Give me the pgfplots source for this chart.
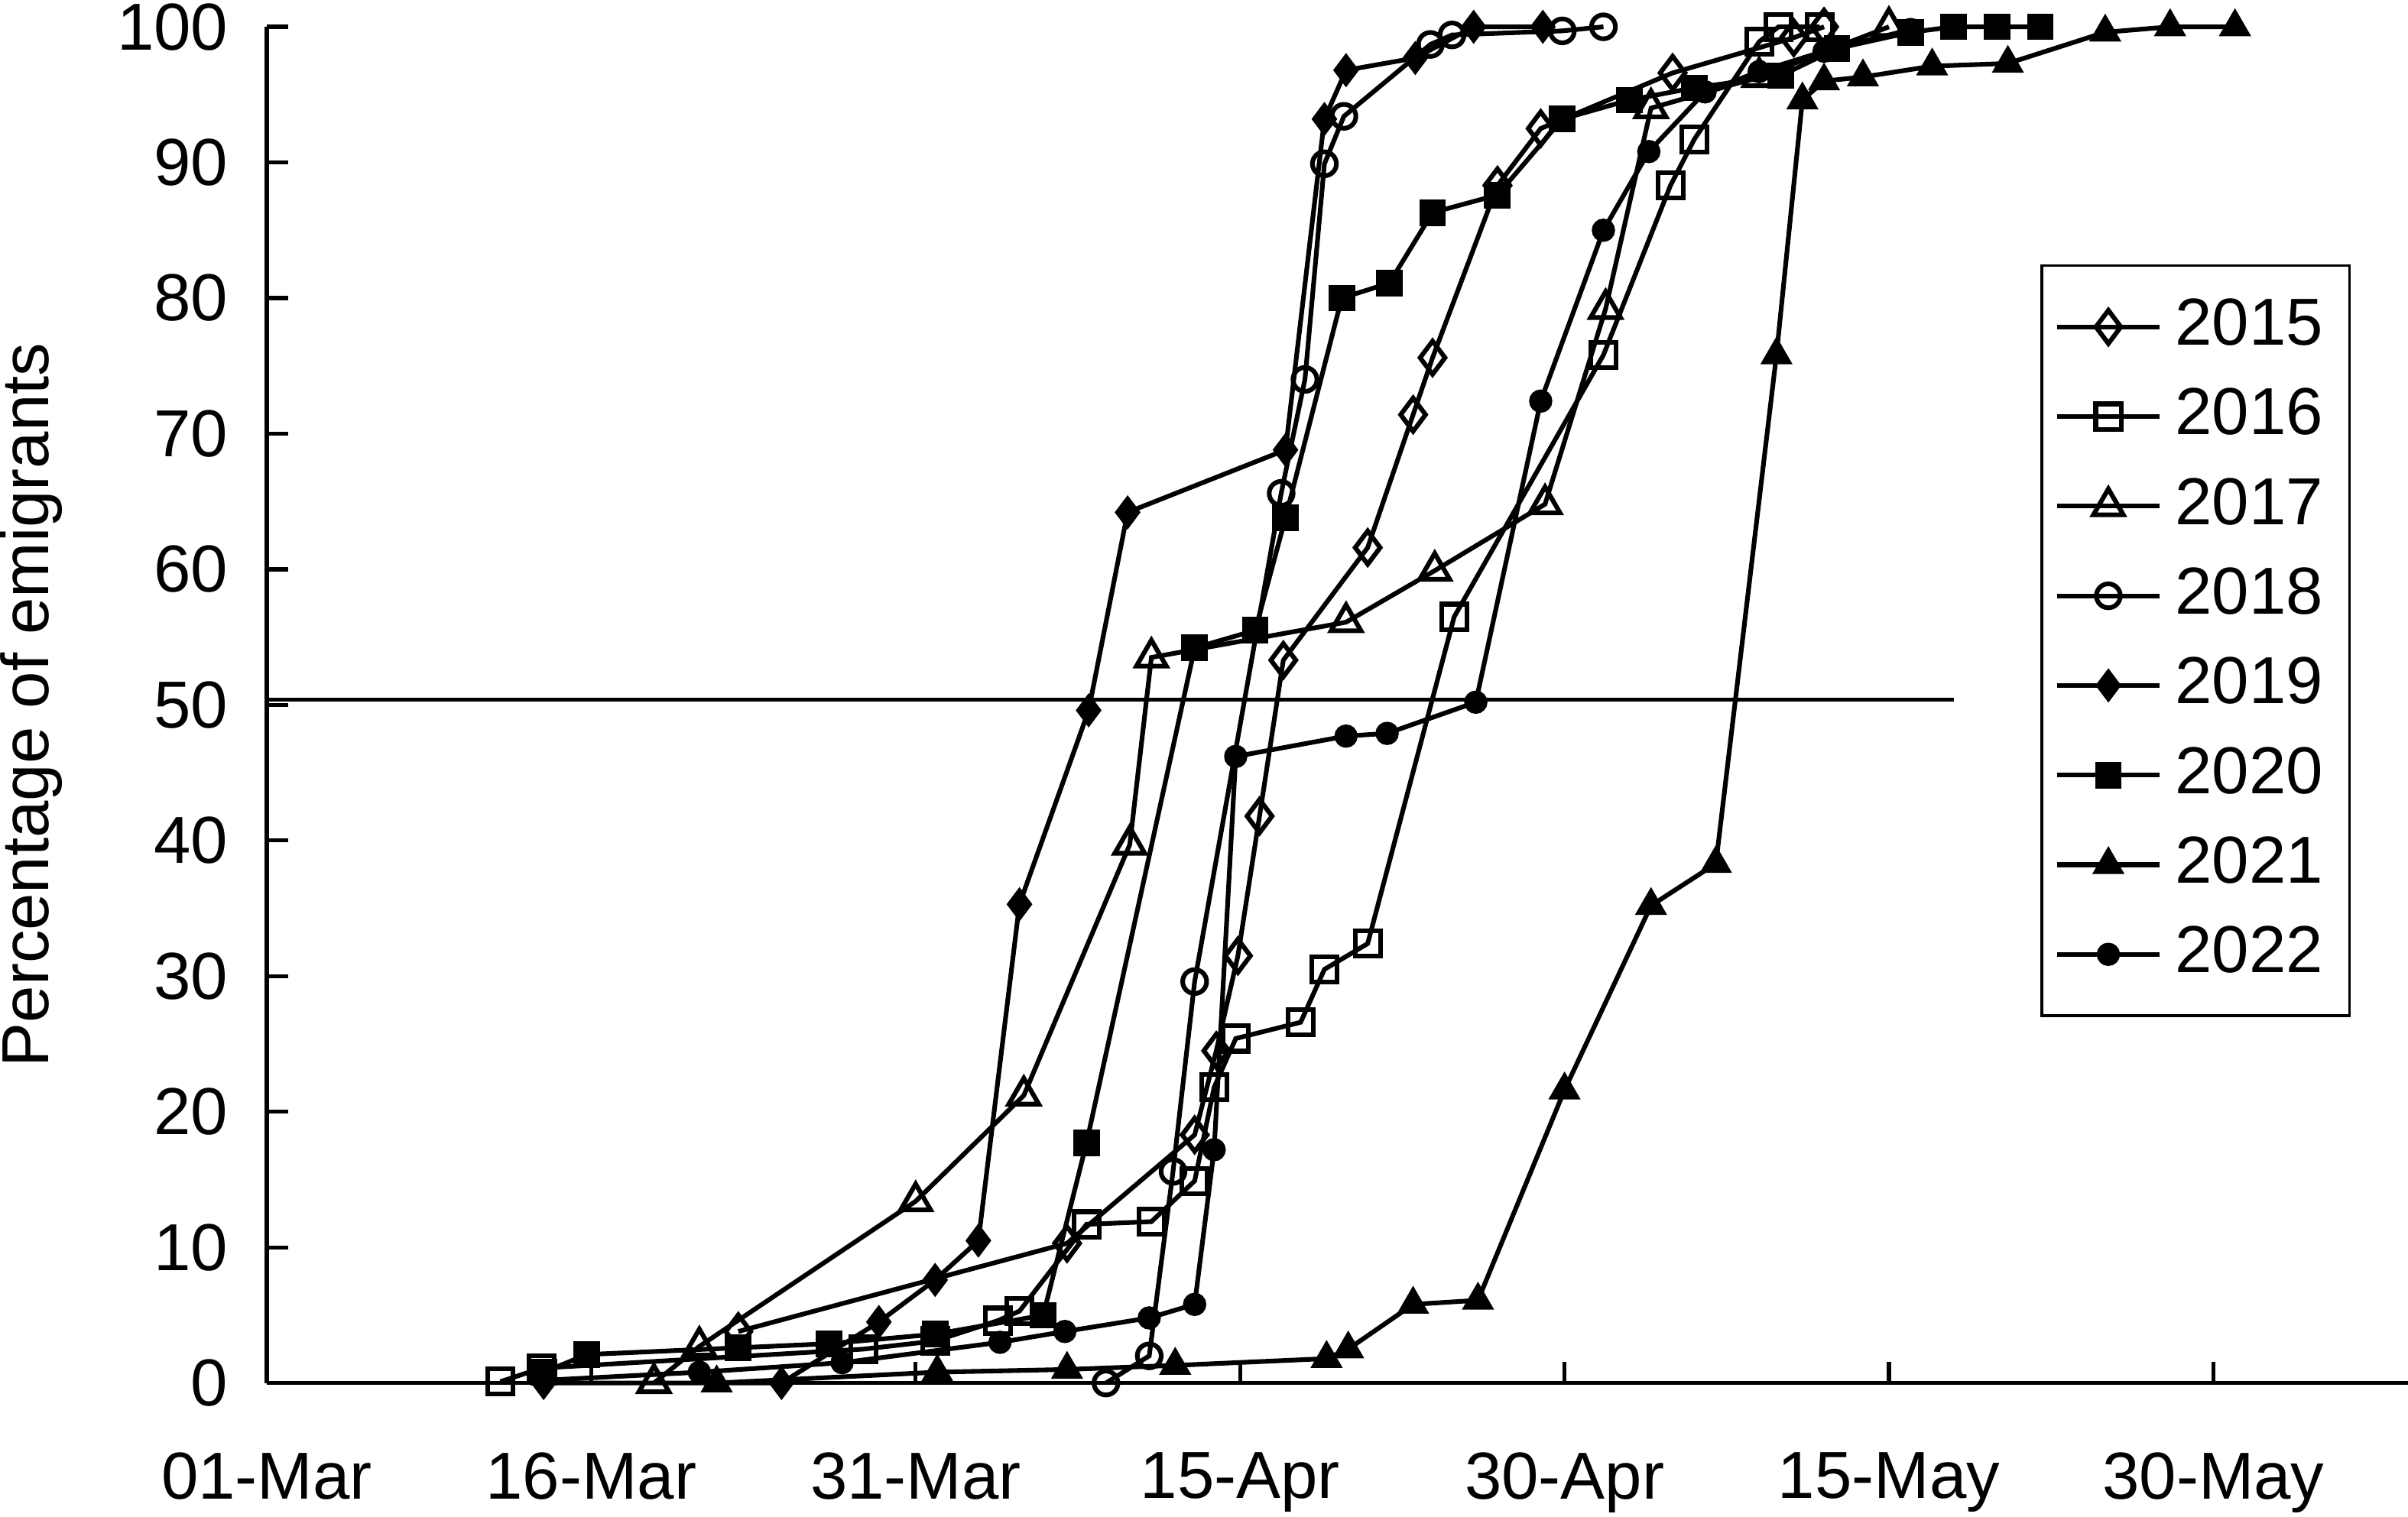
\documentclass[border=0pt]{standalone}
\usepackage{fontspec}
\setmainfont{Liberation Sans}
\usepackage{pgfplots}
\pgfplotsset{compat=1.18}
\begin{document}
\begin{tikzpicture}[trim axis right]
\begin{axis}[
  scale only axis, width=322pt, height=204pt,
  xmin=0, xmax=99, ymin=0, ymax=100,
  axis x line*=bottom, axis y line*=left,
  xtick={0,15,30,45,60,75,90},
  xticklabels={01-Mar,16-Mar,31-Mar,15-Apr,30-Apr,15-May,30-May},
  ytick={0,10,...,100},
  tick align=inside, major tick length=3.2pt,
  tick style={black, line width=0.6pt},
  axis line style={line width=0.6pt},
  xticklabel style={inner ysep=0.5pt, yshift=-9.8pt},
  yticklabel style={inner ysep=0.5pt, xshift=-2.3pt},
  ylabel={Percentage of emigrants},
  every axis y label/.style={at={(axis description cs:0,0.5)}, anchor=south,
    inner sep=0pt, xshift=-30.6pt, rotate=90},
  /pgf/number format/assume math mode=true,
  clip=false,
  every axis plot/.append style={line width=0.7pt, black},
  legend style={at={(axis cs:82,82.5)}, anchor=north west, draw=black,
    row sep=1pt, inner xsep=2pt, inner ysep=3pt, cells={anchor=west}},
  legend image code/.code={\draw[mark repeat=2,mark phase=2] plot coordinates {(0cm,0cm) (0.27cm,0cm) (0.54cm,0cm)};},
]
% 50 % reference line
\addplot[forget plot, line width=0.6pt, mark=none] coordinates {(0,50.4) (78,50.4)};

% 2015
\addplot[mark=diamond, mark size=2.5pt, mark options={solid, fill=white}] coordinates {
(21.8,3.8) (37,10.3) (42.9,18.3) (43.9,24.5) (44.9,31.5) (45.9,41.8) (47,53.3) (50.9,61.6)
(53,71.4) (53.9,75.6) (56.9,88.3) (58.9,92.5) (65,96.6) (70.6,99.2) (72,100)};
% 2016
\addplot[mark=square, mark size=1.9pt, mark options={solid, fill=white}] coordinates {
(10.8,0.1) (12.7,1.1) (27.6,2.5) (30.9,3.1) (33.8,4.6) (34.8,5.3) (37.9,11.7) (40.9,11.9)
(42.9,14.9) (43.8,21.8) (44.8,25.4) (47.8,26.6) (48.9,30.5) (50.9,32.4) (54.9,56.5)
(61.8,75.8) (64.9,88.3) (66,91.7) (69,98.9) (69.9,100) (71.8,100)};
% 2017
\addplot[mark=triangle, mark size=2.6pt, mark options={solid, fill=white}] coordinates {
(17.9,0) (20,2.7) (30,13.4) (35,21.2) (39.9,39.7) (40.9,53.5) (49.9,56.1) (54,59.9)
(59.1,64.8) (61.9,79.2) (64,94) (69,96.3) (75,100)};
% 2018
\addplot[mark=o, mark size=1.8pt, mark options={solid, fill=white}] coordinates {
(38.8,0) (40.8,2) (41.9,15.6) (42.9,29.6) (46.9,65.6) (48,74) (48.9,89.9) (49.8,93.4)
(53.8,98.7) (54.8,99.4) (59.9,99.7) (61.8,100)};
% 2019
\addplot[mark=diamond*, mark size=2pt, mark options={solid, fill=black}] coordinates {
(12.8,0) (23.8,0) (28.3,4.5) (30.9,7.6) (32.9,10.5) (34.8,35.3) (38,49.6) (39.8,64.2)
(47.1,68.8) (48.9,93.2) (49.9,96.8) (53.1,97.7) (55.8,100) (59,100)};
% 2020
\addplot[mark=square*, mark size=1.65pt, mark options={solid, fill=black}] coordinates {
(12.8,0.8) (14.8,2.1) (21.8,2.6) (26,2.9) (30.9,3.6) (35.9,5) (37.9,17.7) (42.9,54.2)
(45.7,55.5) (47.1,63.8) (49.7,80) (51.9,81.1) (53.9,86.3) (56.9,87.6) (59.9,93.2)
(63,94.6) (66,95.5) (70,96.4) (72.6,98.4) (76,99.6) (78,100) (80,100) (82,100)};
% 2021
\addplot[mark=triangle*, mark size=2.1pt, mark options={solid, fill=black}] coordinates {
(20.8,0) (31,0.8) (37,1) (42,1.3) (49,1.8) (50,2.5) (53,5.8) (56,6.1) (60,21.6) (64,35.2)
(67,38.3) (69.8,75.8) (71,94.6) (72,96) (73.8,96.3) (77,97.1) (80.5,97.3) (85,99.6)
(88,100) (91,100)};
% 2022
\addplot[mark=*, mark size=1.4pt, mark options={solid, fill=black}] coordinates {
(12.8,0.2) (20,0.8) (26.6,1.5) (33.9,3) (36.9,3.8) (40.8,4.8) (42.9,5.8) (43.8,17.2)
(44.8,46.2) (49.9,47.7) (51.8,47.9) (55.9,50.2) (58.9,72.4) (61.8,85) (63.9,90.8)
(66.5,95.2) (69,96.7) (72,98.2) (76,99.8)};
\legend{2015,2016,2017,2018,2019,2020,2021,2022}
\end{axis}
\end{tikzpicture}
\end{document}
